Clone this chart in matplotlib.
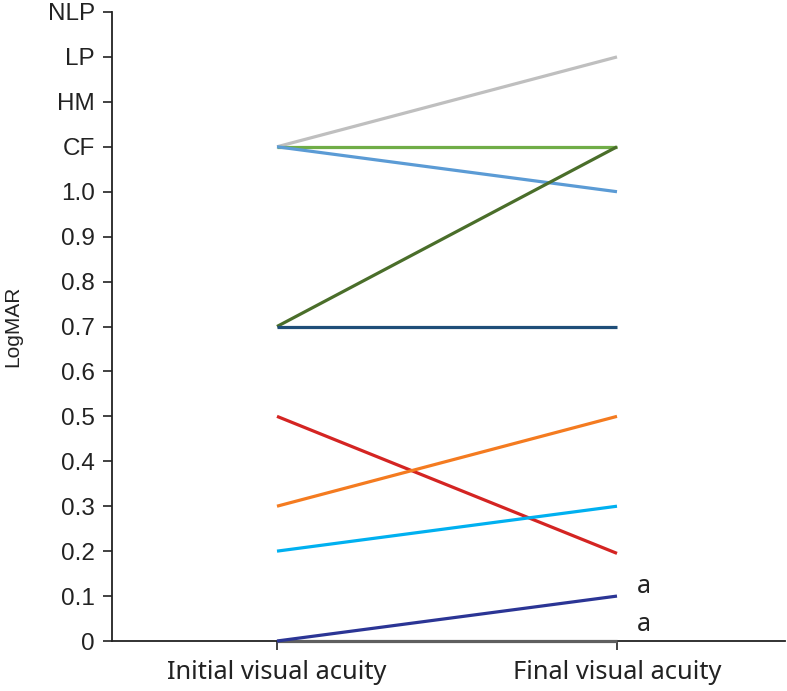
import matplotlib
matplotlib.use("Agg")
import matplotlib.pyplot as plt

plt.rcParams['font.family'] = ['Liberation Sans', 'DejaVu Sans']

stages = ["Initial visual acuity", "Final visual acuity"]
ytick_values = [0, 0.1, 0.2, 0.3, 0.4, 0.5, 0.6, 0.7, 0.8, 0.9, 1.0, 1.1, 1.2, 1.3, 1.4]
ytick_labels = ["0", "0.1", "0.2", "0.3", "0.4", "0.5", "0.6", "0.7", "0.8", "0.9", "1.0",
                "CF", "HM", "LP", "NLP"]

initial = [0.0, 1.1, 1.1, 1.1, 0.7, 0.7, 0.5, 0.3, 0.2, 0.0]
final = [0.0, 1.3, 1.1, 1.0, 1.1, 0.7, 0.195, 0.5, 0.3, 0.1]
colors = ["#5f5f5f", "#bfbfbf", "#70ad47", "#5b9bd5", "#4a6e2a", "#1f4e79",
          "#d42422", "#f47b20", "#00b0f0", "#2b3595"]
annotations = ["a", "a"]
annot_y = [0.122, 0.036]

fig = plt.figure(figsize=(7.87, 6.91), dpi=100)
ax = fig.add_axes([112 / 787, 50 / 691, (785 - 112) / 787, (641 - 12) / 691])

for y0, y1, c in zip(initial, final, colors):
    ax.plot([0, 1], [y0, y1], color=c, lw=2.3, solid_capstyle='butt', clip_on=False, zorder=3)

for txt, yy in zip(annotations, annot_y):
    ax.text(1.08, yy, txt, ha='center', va='center', fontsize=18, color='#222222',
            family=['Noto Sans', 'DejaVu Sans'])

ax.set_xlim((112 - 277) / 340, (785 - 277) / 340)
ax.set_ylim(0, 1.4)
ax.set_yticks(ytick_values)
ax.set_yticklabels(ytick_labels)
ax.set_xticks([0, 1])
ax.set_xticklabels(stages, family=['Noto Sans', 'DejaVu Sans'], fontsize=18.3)
ax.tick_params(axis='y', labelsize=17.5, colors='#222222', length=6.5, width=1.2, pad=6)
ax.tick_params(axis='x', colors='#222222', length=6.5, width=1.2, pad=7)
ax.set_ylabel("LogMAR", fontsize=15, color='#222222')
ax.yaxis.set_label_coords(-0.133, 0.5)
for s in ['top', 'right']:
    ax.spines[s].set_visible(False)
for s in ['left', 'bottom']:
    ax.spines[s].set_linewidth(1.3)
    ax.spines[s].set_color('#222222')

fig.savefig("out.png", dpi=100)
